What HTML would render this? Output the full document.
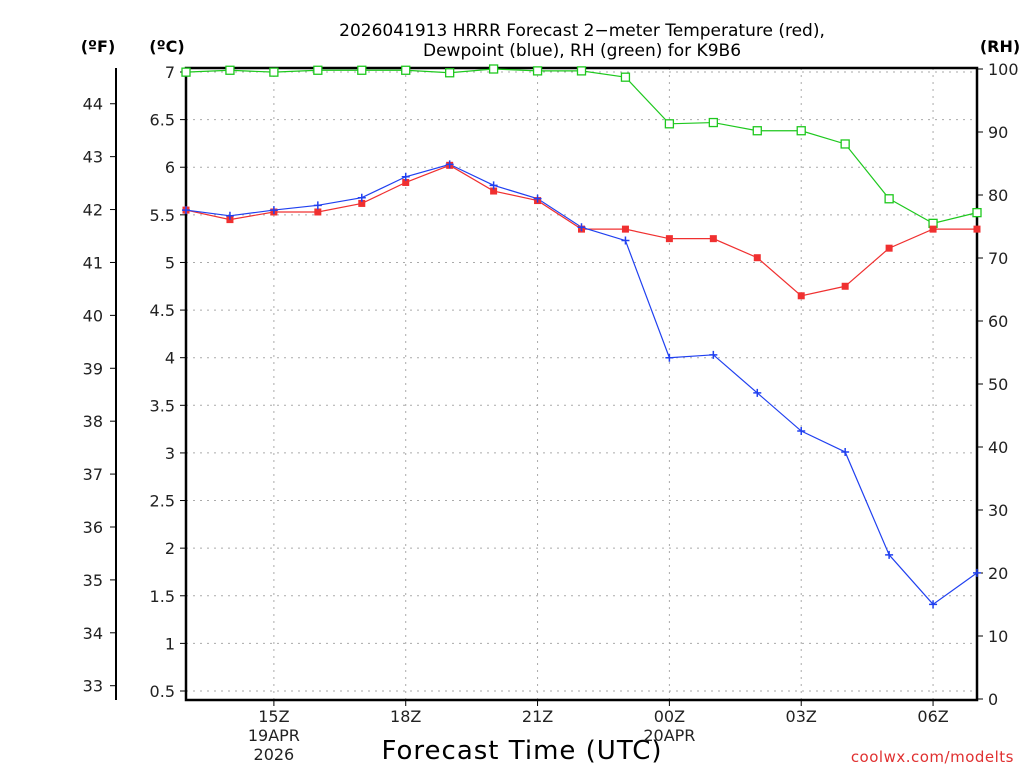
<!DOCTYPE html>
<html><head><meta charset="utf-8"><style>
body{margin:0;background:#fff;}
svg{display:block;font-family:"DejaVu Sans","Liberation Sans",sans-serif;}
</style></head><body>
<svg id="chart" width="1024" height="768" viewBox="0 0 1024 768" xmlns="http://www.w3.org/2000/svg">
<rect width="1024" height="768" fill="#fff"/>
<text x="582" y="36" font-size="17" text-anchor="middle" fill="#000">2026041913 HRRR Forecast 2−meter Temperature (red),</text>
<text x="582" y="56" font-size="17" text-anchor="middle" fill="#000">Dewpoint (blue), RH (green) for K9B6</text>
<text x="98" y="52" font-size="16" font-weight="bold" text-anchor="middle">(ºF)</text>
<text x="167" y="52" font-size="16" font-weight="bold" text-anchor="middle">(ºC)</text>
<text x="1000" y="52" font-size="16" font-weight="bold" text-anchor="middle">(RH)</text>
<text x="522" y="759" font-size="26" text-anchor="middle" letter-spacing="1">Forecast Time (UTC)</text>
<text x="1014" y="762" font-size="15" text-anchor="end" fill="#e03030" letter-spacing="0.5">coolwx.com/modelts</text>
<g id="grid"></g><g id="axes"></g><g id="series"></g>
</svg>
<script>
const hours = ["13Z","14Z","15Z","16Z","17Z","18Z","19Z","20Z","21Z","22Z","23Z","00Z","01Z","02Z","03Z","04Z","05Z","06Z","07Z"];
const tempC = [5.55,5.45,5.53,5.53,5.62,5.84,6.02,5.75,5.65,5.35,5.35,5.25,5.25,5.05,4.65,4.75,5.15,5.35,5.35];
const dewC = [5.55,5.49,5.55,5.6,5.68,5.9,6.03,5.81,5.67,5.37,5.23,4.0,4.03,3.63,3.23,3.01,1.93,1.41,1.74];
const rh = [99.5,99.8,99.5,99.8,99.8,99.8,99.4,100,99.7,99.7,98.7,91.3,91.5,90.2,90.2,88.1,79.4,75.5,77.2];
const cTicks = [0.5,1,1.5,2,2.5,3,3.5,4,4.5,5,5.5,6,6.5,7];
const fTicks = [33,34,35,36,37,38,39,40,41,42,43,44];
const rhTicks = [0,10,20,30,40,50,60,70,80,90,100];
const xLabels = [[2,"15Z","19APR","2026"],[5,"18Z"],[8,"21Z"],[11,"00Z","20APR"],[14,"03Z"],[17,"06Z"]];

const L=186,R=977,T=68,B=700;
const x=i=>L+(R-L)*i/(hours.length-1);
const yc=c=>72+(7-c)*95.23;
const yf=f=>yc((f-32)*5/9);
const yr=r=>699-r*6.3;
const NS="http://www.w3.org/2000/svg";
function mk(parent,tag,attrs,text){const e=document.createElementNS(NS,tag);for(const k in attrs)e.setAttribute(k,attrs[k]);if(text!==undefined)e.textContent=text;parent.appendChild(e);return e;}
const G=document.getElementById('grid'),A=document.getElementById('axes'),S=document.getElementById('series');

cTicks.forEach(c=>{
  const l=mk(G,'line',{x1:L,x2:R,y1:yc(c),y2:yc(c),stroke:'#aaa','stroke-dasharray':'2,5'});
  
  
  mk(A,'line',{x1:L-6,x2:L,y1:yc(c),y2:yc(c),stroke:'#000'});
  const t=mk(A,'text',{x:L-11,y:yc(c)+6,'font-size':16,'text-anchor':'end',fill:'#222'},String(c));
  
  
});
xLabels.forEach(d=>{
  const xx=x(d[0]);
  const l=mk(G,'line',{x1:xx,x2:xx,y1:T,y2:B,stroke:'#aaa','stroke-dasharray':'2,5'});
  
  
  mk(A,'line',{x1:xx,x2:xx,y1:B,y2:B+6,stroke:'#000'});
  d.slice(1).forEach((s,j)=>{
    const t=mk(A,'text',{x:xx,y:B+22+j*19,'font-size':16,'text-anchor':'middle',fill:'#222'},s);
    
    
  });
});
fTicks.forEach(f=>{
  mk(A,'line',{x1:110,x2:116,y1:yf(f),y2:yf(f),stroke:'#000'});
  const t=mk(A,'text',{x:103,y:yf(f)+6,'font-size':16,'text-anchor':'end',fill:'#222'},String(f));
  
  
});
rhTicks.forEach(r=>{
  mk(A,'line',{x1:R,x2:R+6,y1:yr(r),y2:yr(r),stroke:'#000'});
  const t=mk(A,'text',{x:988,y:yr(r)+6,'font-size':16,'text-anchor':'start',fill:'#222'},String(r));
  
  
});
mk(A,'line',{x1:116,x2:116,y1:T,y2:B,stroke:'#000','stroke-width':2});
const box=mk(A,'rect',{x:L,y:T,width:R-L,height:B-T,fill:'none',stroke:'#000','stroke-width':2.5});



function line(vals,yfn,color,name){
  const p=mk(S,'polyline',{points:vals.map((v,i)=>x(i)+','+yfn(v)).join(' '),fill:'none',stroke:color,'stroke-width':1.2});
  
  
}
line(rh,yr,'#1ec81e','rh-line');
line(tempC,yc,'#f03030','temperature-line');
line(dewC,yc,'#2040f0','dewpoint-line');
rh.forEach((v,i)=>{
  const m=mk(S,'rect',{x:x(i)-4,y:yr(v)-4,width:8,height:8,fill:'#fff',stroke:'#1ec81e','stroke-width':1.3});
  
  
});
tempC.forEach((v,i)=>{
  const m=mk(S,'rect',{x:x(i)-3.5,y:yc(v)-3.5,width:7,height:7,fill:'#f03030'});
  
  
});
dewC.forEach((v,i)=>{
  const m=mk(S,'path',{d:`M${x(i)-4},${yc(v)}h8M${x(i)},${yc(v)-4}v8`,stroke:'#2040f0','stroke-width':1.5});
  
  
});
</script>
</body></html>
